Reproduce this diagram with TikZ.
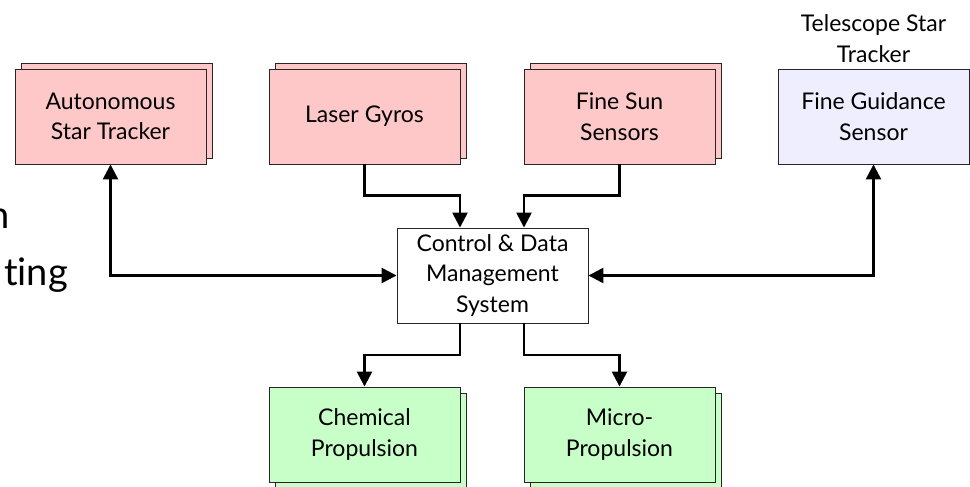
\documentclass[tikz,border=0pt]{standalone}
\usepackage{fontspec}
\setmainfont{Lato}[Ligatures=NoCommon]
\usetikzlibrary{arrows.meta,calc}

\definecolor{sensorpink}{RGB}{255,200,200}
\definecolor{thrustgreen}{RGB}{200,255,200}
\definecolor{guidelav}{RGB}{238,238,255}

\tikzset{
  unit/.style={draw=black!85, line width=0.9pt, minimum width=191pt, minimum height=95pt,
    inner sep=0pt, align=center, font=\fontsize{23}{30.5}\selectfont},
  pinkunit/.style={unit, fill=sensorpink},
  greenunit/.style={unit, fill=thrustgreen},
  tip/.tip={Triangle[length=15pt,width=15pt]},
  link/.style={line width=2.5pt, -tip},
  dlink/.style={line width=2.5pt, tip-tip},
  slidetext/.style={inner sep=0pt, font=\fontsize{38}{44}\selectfont}
}

\begin{document}
\begin{tikzpicture}[x=1pt, y=-1pt]
  \clip (0,0) rectangle (970,487);
  \useasboundingbox (0,0) rectangle (970,487);

  % slide text running under the diagram
  \node[slidetext, anchor=base east] (sl1) at (10,228) {n};
  \node[slidetext, anchor=base east] (sl2) at (68,285) {ting};

  % sensor units (stacked, duplicated hardware)
  \node[pinkunit] (astB) at (117,110.5) {};
  \node[pinkunit] (ast) at (110.5,116.5) {Autonomous\\Star Tracker};
  \node[pinkunit] (lgB) at (371,110.5) {};
  \node[pinkunit] (lg) at (364.5,116.5) {Laser Gyros};
  \node[pinkunit] (fssB) at (626,110.5) {};
  \node[pinkunit] (fss) at (619.5,116.5) {Fine Sun\\Sensors};

  % fine guidance sensor
  \node[unit, fill=guidelav] (fgs) at (873.5,116.5) {Fine Guidance\\Sensor};
  \node[inner sep=0pt, align=center, font=\fontsize{23}{30.5}\selectfont, anchor=south]
    (tst) at ([yshift=6pt]fgs.north) {Telescope Star\\Tracker};

  % central computer
  \node[unit, fill=white] (cdms) at (492.5,275.5) {Control \& Data\\Management\\System};

  % propulsion units
  \node[greenunit] (chemB) at (371,440.5) {};
  \node[greenunit] (chem) at (364.5,434.5) {Chemical\\Propulsion};
  \node[greenunit] (microB) at (626,440.5) {};
  \node[greenunit] (micro) at (619.5,434.5) {Micro-\\Propulsion};

  % bends of the routed connectors
  \coordinate (lgbend) at (364.5,195.5);
  \coordinate (fssbend) at (619.5,195.5);
  \coordinate (chembend) at (460,355);
  \coordinate (microbend) at (524,355);

  % sensor data into the computer
  \draw[link] (lg.south) -- (lgbend) -| ([xshift=-32.5pt]cdms.north);
  \draw[link] (fss.south) -- (fssbend) -| ([xshift=31.5pt]cdms.north);

  % two-way links
  \draw[dlink] (ast.south) |- (cdms.west);
  \draw[dlink] (fgs.south) |- (cdms.east);

  % commands to the thrusters
  \draw[link] ([xshift=-32.5pt]cdms.south) -- (chembend) -| (chem.north);
  \draw[link] ([xshift=31.5pt]cdms.south) -- (microbend) -| (micro.north);
\end{tikzpicture}
\end{document}
